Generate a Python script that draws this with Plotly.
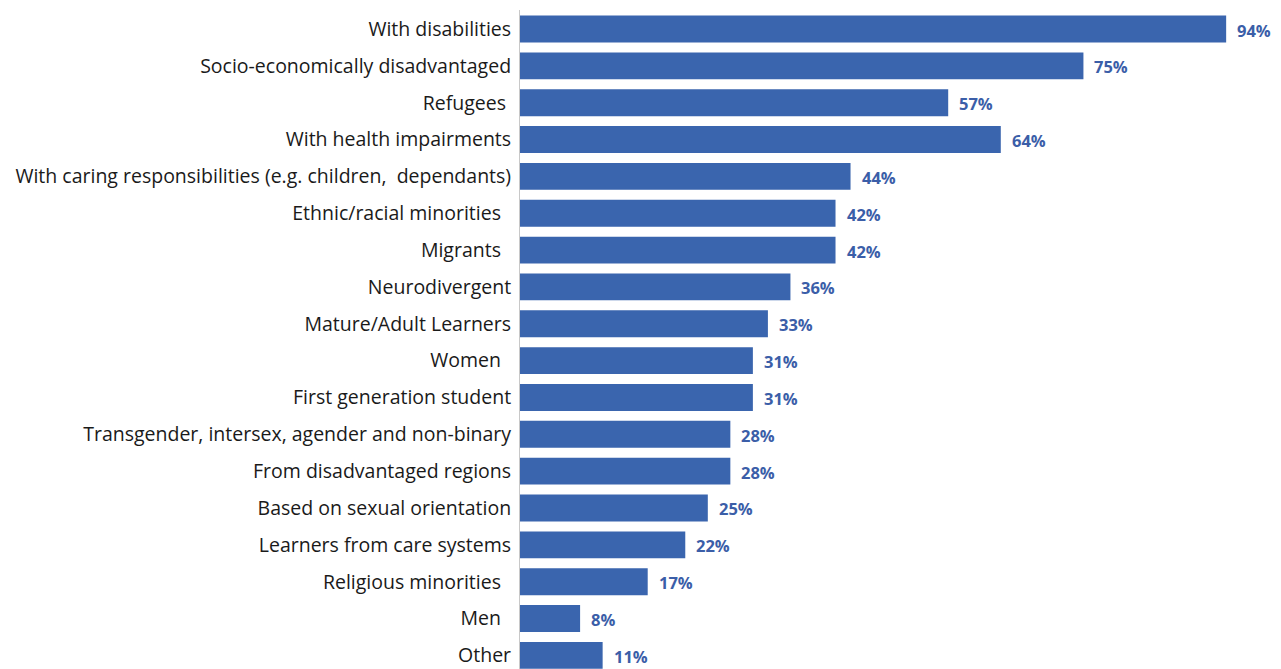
import plotly.graph_objects as go

categories = [
    "With disabilities",
    "Socio-economically disadvantaged",
    "Refugees\u00a0",
    "With health impairments",
    "With caring responsibilities (e.g. children,  dependants)",
    "Ethnic/racial minorities\u00a0\u00a0",
    "Migrants\u00a0\u00a0",
    "Neurodivergent",
    "Mature/Adult Learners",
    "Women\u00a0\u00a0",
    "First generation student",
    "Transgender, intersex, agender and non-binary",
    "From disadvantaged regions",
    "Based on sexual orientation",
    "Learners from care systems",
    "Religious minorities\u00a0\u00a0",
    "Men\u00a0\u00a0",
    "Other",
]
values = [94, 75, 57, 64, 44, 42, 42, 36, 33, 31, 31, 28, 28, 25, 22, 17, 8, 11]

BAR_COLOR = "#3a65ae"
LABEL_COLOR = "#3b5ea8"
FONT = "Open Sans, Noto Sans, sans-serif"

fig = go.Figure(
    go.Bar(
        x=values,
        y=categories,
        orientation="h",
        width=0.73,
        marker=dict(color=BAR_COLOR, line=dict(width=0)),
        hoverinfo="skip",
    )
)

for cat, v in zip(categories, values):
    fig.add_annotation(
        x=v, y=cat, text=f"{v}%", showarrow=False,
        xanchor="left", yanchor="middle", xshift=9, yshift=-1,
        font=dict(family=FONT, size=16.5, color=LABEL_COLOR, weight="bold"),
    )

fig.update_layout(
    width=1281, height=669,
    margin=dict(l=520, r=0, t=10, b=0),
    paper_bgcolor="white", plot_bgcolor="white",
    showlegend=False,
    font=dict(family=FONT, color="#1a1a1a"),
    xaxis=dict(range=[0, 101.3], visible=False, showgrid=False, zeroline=False),
    yaxis=dict(
        type="category",
        categoryorder="array",
        categoryarray=categories,
        range=[17.37, -0.516],
        showgrid=False,
        zeroline=False,
        showline=True,
        linecolor="#c8c8c8",
        linewidth=1,
        ticks="",
        ticklabelstandoff=4,
        tickfont=dict(family=FONT, size=19.5, color="#1a1a1a"),
    ),
)

fig.write_html("out.html")
